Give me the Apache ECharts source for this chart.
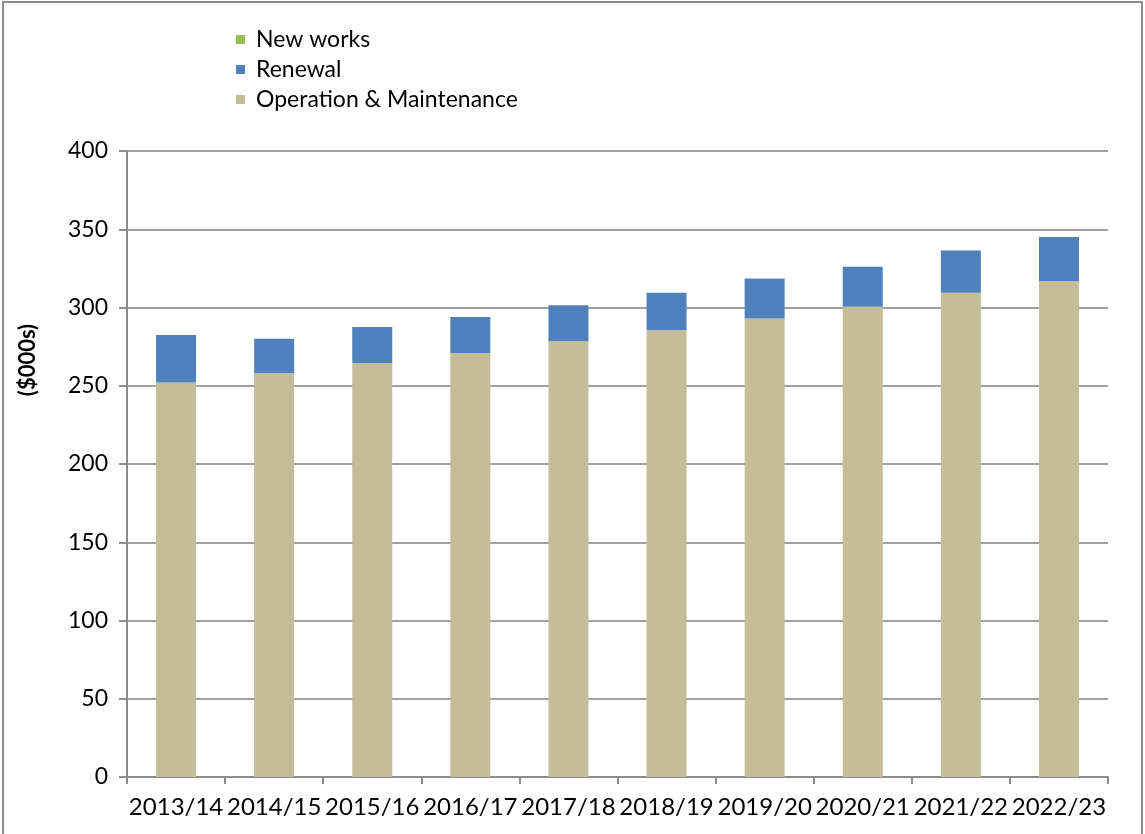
<!DOCTYPE html>
<html>
<head>
<meta charset="utf-8">
<script src="https://cdn.jsdelivr.net/npm/echarts@6/dist/echarts.min.js"></script>
<style>
  html, body { margin: 0; padding: 0; background: #fff; }
  #chart { width: 1145px; height: 834px; }
</style>
</head>
<body>
<div id="chart"></div>
<script>
// Annual expenditure by category ($000s)
const years = ['2013/14', '2014/15', '2015/16', '2016/17', '2017/18',
               '2018/19', '2019/20', '2020/21', '2021/22', '2022/23'];
const operationMaintenance = [252, 258, 264.5, 271, 278.5, 285.5, 293, 300.5, 309.5, 317];
const renewal = [30.5, 22, 23, 23, 23, 24, 25.5, 25.5, 27, 28];
const newWorks = [0, 0, 0, 0, 0, 0, 0, 0, 0, 0];
const yTicks = { min: 0, max: 400, step: 50 };

const font = 'Lato, "Open Sans", "Noto Sans", sans-serif';
const chart = echarts.init(document.getElementById('chart'), null, { renderer: 'canvas' });

chart.setOption({
  animation: false,
  backgroundColor: '#ffffff',
  textStyle: { fontFamily: font },
  legend: {
    orient: 'vertical',
    left: 236,
    top: 28,
    padding: 0,
    itemWidth: 9,
    itemHeight: 9,
    itemGap: 7,
    icon: 'rect',
    textStyle: { fontSize: 23, color: '#000', fontFamily: font, padding: [0, 0, 0, 6] },
    data: ['New works', 'Renewal', 'Operation & Maintenance']
  },
  grid: { left: 127, right: 37, top: 151, bottom: 57, containLabel: false },
  xAxis: {
    type: 'category',
    data: years,
    axisLine: { lineStyle: { color: '#8c8c8c', width: 2 } },
    axisTick: { show: true, length: 7, alignWithLabel: false, lineStyle: { color: '#8c8c8c', width: 2 } },
    axisLabel: { fontSize: 24, color: '#000', margin: 18, interval: 0, fontFamily: font }
  },
  yAxis: {
    type: 'value',
    min: yTicks.min,
    max: yTicks.max,
    interval: yTicks.step,
    axisLine: { show: true, lineStyle: { color: '#8c8c8c', width: 2 } },
    axisTick: { show: true, length: 8, lineStyle: { color: '#8c8c8c', width: 2 } },
    axisLabel: { fontSize: 23, color: '#000', margin: 19, fontFamily: font },
    splitLine: { lineStyle: { color: '#a0a0a0', width: 2 } }
  },
  series: [
    {
      name: 'Operation & Maintenance',
      type: 'bar',
      stack: 'total',
      barWidth: 40,
      data: operationMaintenance,
      itemStyle: { color: '#C4BD97' }
    },
    {
      name: 'Renewal',
      type: 'bar',
      stack: 'total',
      barWidth: 40,
      data: renewal,
      itemStyle: { color: '#4F81BD' }
    },
    {
      name: 'New works',
      type: 'bar',
      stack: 'total',
      barWidth: 40,
      data: newWorks,
      itemStyle: { color: '#9BBB59' }
    }
  ],
  graphic: [
    {
      type: 'rect',
      shape: { x: 3, y: 2, width: 1139, height: 840 },
      style: { fill: 'none', stroke: '#8c8c8c', lineWidth: 2 },
      silent: true
    },
    {
      type: 'text',
      x: 28,
      y: 360,
      rotation: Math.PI / 2,
      style: {
        text: '($000s)',
        fontSize: 22,
        fontWeight: 'bold',
        fontFamily: font,
        fill: '#000',
        align: 'center',
        verticalAlign: 'middle'
      }
    }
  ]
});
</script>
</body>
</html>
